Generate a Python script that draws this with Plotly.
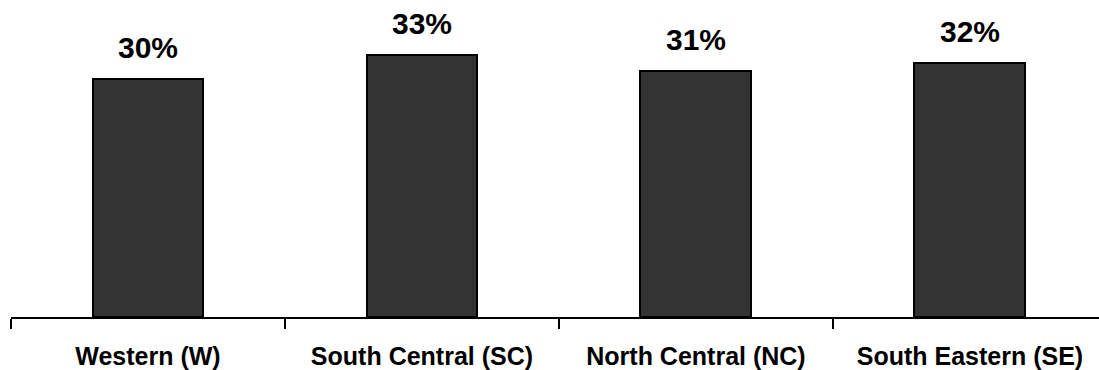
import plotly.graph_objects as go

# Regional shares (percent)
regions = ["Western (W)", "South Central (SC)", "North Central (NC)", "South Eastern (SE)"]
shares = [30, 33, 31, 32]
share_labels = ["30%", "33%", "31%", "32%"]

fig = go.Figure(
    go.Bar(
        x=regions,
        y=shares,
        width=0.405,
        marker=dict(color="#333333", line=dict(color="#000000", width=2)),
        hoverinfo="skip",
    )
)

for region, value, label in zip(regions, shares, share_labels):
    fig.add_annotation(
        x=region,
        y=value,
        text=f"<b>{label}</b>",
        showarrow=False,
        yanchor="bottom",
        yshift=13,
        font=dict(family="Liberation Sans, Arial, sans-serif", size=30, color="#000000"),
    )

fig.update_layout(
    width=1099,
    height=370,
    margin=dict(l=11, r=0, t=0, b=53),
    paper_bgcolor="white",
    plot_bgcolor="white",
    showlegend=False,
    bargap=0,
)

fig.update_xaxes(
    type="category",
    range=[-0.5, 3.471],
    showline=True,
    linecolor="#000000",
    linewidth=2,
    ticks="outside",
    tickson="boundaries",
    ticklen=10,
    tickwidth=2,
    tickcolor="#000000",
    ticklabelstandoff=16,
    showgrid=False,
    tickfont=dict(family="Century Gothic, Liberation Sans, Arial, sans-serif", size=25, color="#000000"),
    tickprefix="<b>",
    ticksuffix="</b>",
)

fig.update_yaxes(
    range=[0, 40],
    visible=False,
    showgrid=False,
    zeroline=False,
)

fig.write_html("out.html")
